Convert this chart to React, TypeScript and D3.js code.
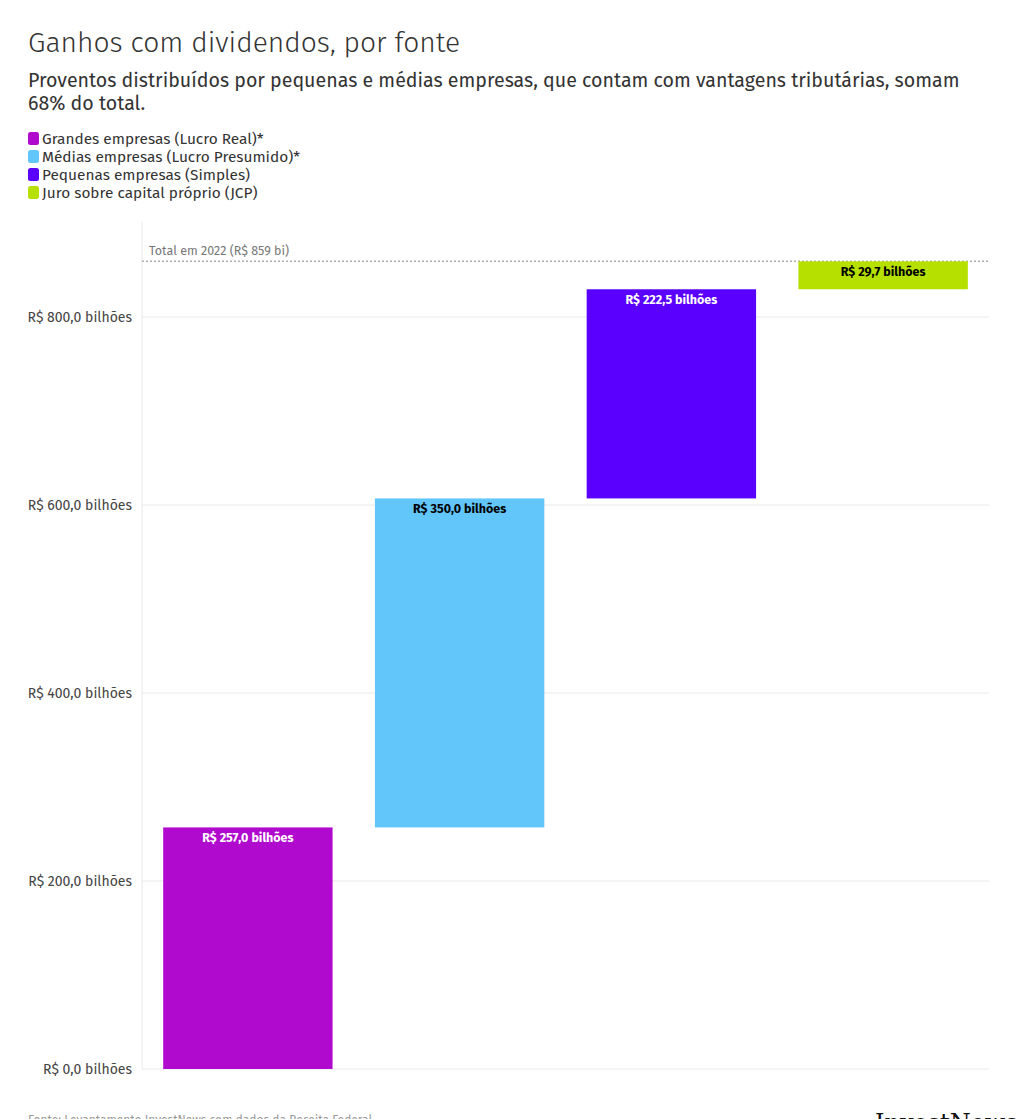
import React from "react";
import * as d3 from "d3";

const categories = [
  "Grandes empresas (Lucro Real)*",
  "Médias empresas (Lucro Presumido)*",
  "Pequenas empresas (Simples)",
  "Juro sobre capital próprio (JCP)",
];
const values = [257.0, 350.0, 222.5, 29.7];
const colors = ["#b10acf", "#62c6fb", "#5a00ff", "#b5e000"];
const labelColors = ["#ffffff", "#000000", "#ffffff", "#000000"];
const yTicks = [0, 200, 400, 600, 800];
const total = 859.2;

const W = 1020;
const H = 1119;
const FONT = "'Fira Sans', 'Noto Sans', 'Open Sans', sans-serif";

const fmt = (v: number) => "R$ " + v.toFixed(1).replace(".", ",") + " bilhões";

export default function App() {
  const left = 142;
  const right = 989;
  const y = d3.scaleLinear().domain([0, 800]).range([1069, 317]);
  const x = d3
    .scaleBand<string>()
    .domain(categories)
    .range([left, right])
    .paddingInner(0.2)
    .paddingOuter(0.1);

  let cum = 0;
  const bars = values.map((v, i) => {
    const start = cum;
    cum += v;
    return { cat: categories[i], start, end: cum, v, i };
  });

  return (
    <svg
      width={W}
      height={H}
      style={{ position: "absolute", left: 0, top: 0, background: "#fff" }}
      fontFamily={FONT}
    >
      <text x={28} y={52} fontSize={28.2} fill="#333" fontWeight={300}>
        Ganhos com dividendos, por fonte
      </text>
      <text x={28} y={87} fontSize={19.6} fill="#333">
        Proventos distribuídos por pequenas e médias empresas, que contam com vantagens tributárias, somam
      </text>
      <text x={28} y={110} fontSize={19.6} fill="#333">
        68% do total.
      </text>
      {categories.map((c, i) => (
        <g key={c} transform={`translate(28, ${132 + i * 18})`}>
          <rect x={0} y={0} width={11} height={13} rx={2.5} fill={colors[i]} />
          <text x={14} y={11.5} fontSize={15.4} fill="#333">
            {c}
          </text>
        </g>
      ))}

      {/* grid */}
      {yTicks.map((t) => (
        <g key={t}>
          <line x1={left} x2={right} y1={y(t)} y2={y(t)} stroke="#e8e8e8" strokeWidth={1} />
          <text x={132} y={y(t)} dy="0.35em" textAnchor="end" fontSize={14} fill="#444">
            {fmt(t)}
          </text>
        </g>
      ))}
      <line x1={left} x2={left} y1={222} y2={1069} stroke="#e8e8e8" strokeWidth={1} />

      {/* total line */}
      <line
        x1={left}
        x2={right}
        y1={y(total)}
        y2={y(total)}
        stroke="#b0b0b0"
        strokeWidth={1.5}
        strokeDasharray="2,2"
      />
      <text x={149} y={y(total) - 6} fontSize={12.5} fill="#777">
        Total em 2022 (R$ 859 bi)
      </text>

      {bars.map((b) => (
        <g key={b.cat}>
          <rect
            x={x(b.cat)}
            y={y(b.end)}
            width={x.bandwidth()}
            height={y(b.start) - y(b.end)}
            fill={colors[b.i]}
          />
          <text
            x={(x(b.cat) as number) + x.bandwidth() / 2}
            y={y(b.end) + 15}
            textAnchor="middle"
            fontSize={12.5}
            fontWeight={700}
            fill={labelColors[b.i]}
          >
            {fmt(b.v)}
          </text>
        </g>
      ))}

      <text x={28} y={1124} fontSize={12} fill="#999">
        Fonte: Levantamento InvestNews com dados da Receita Federal
      </text>
      <text x={875} y={1131} fontSize={24} fontFamily="'DejaVu Serif', serif" fill="#111">
        InvestNews
      </text>
    </svg>
  );
}
